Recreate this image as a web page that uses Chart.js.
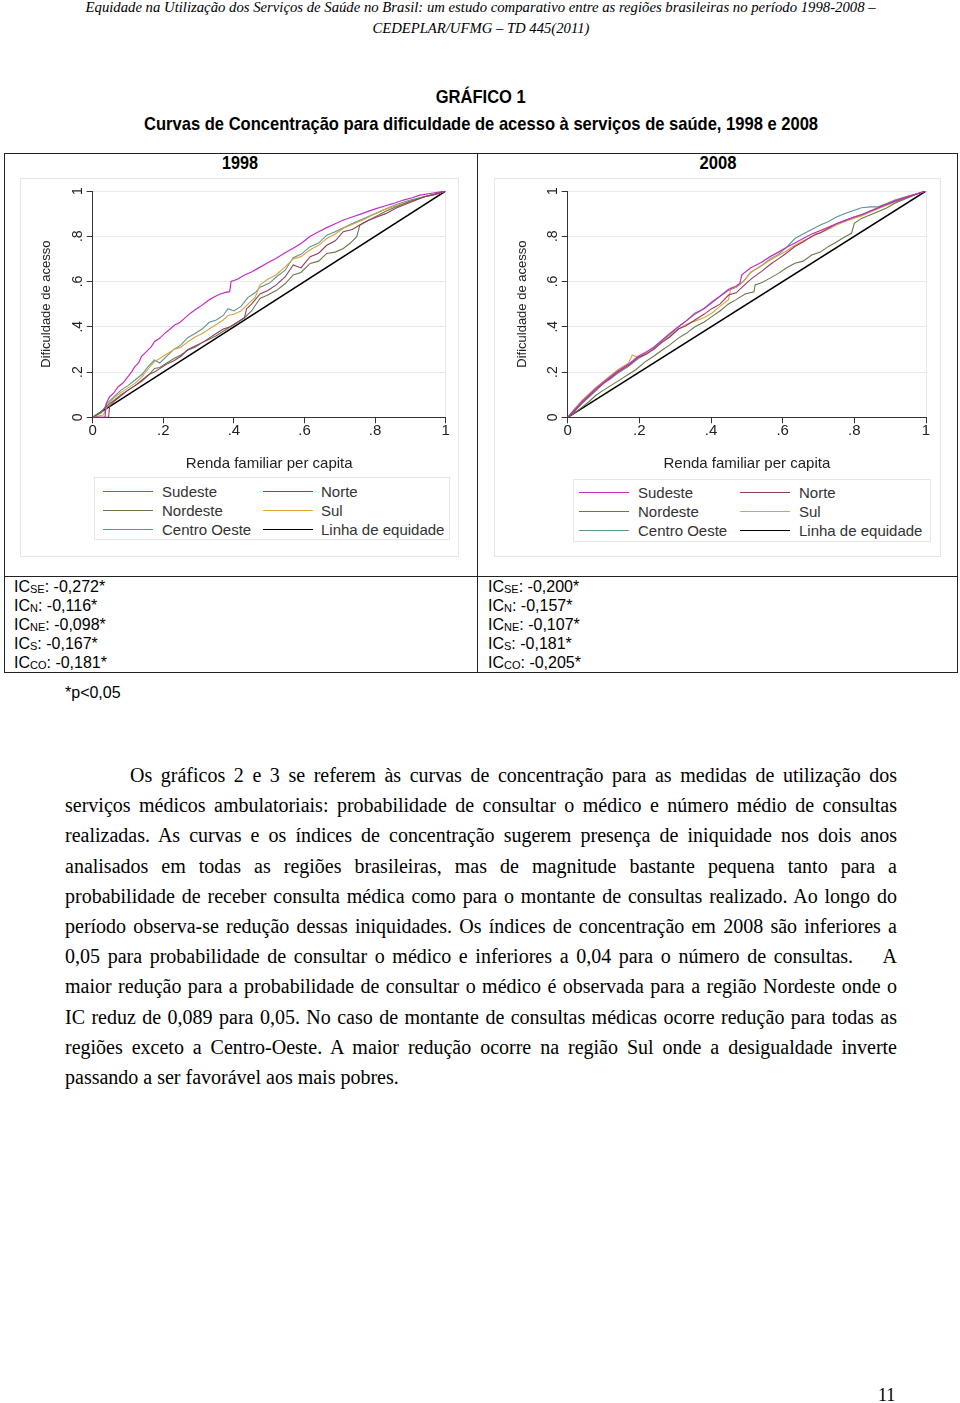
<!DOCTYPE html>
<html lang="pt-BR">
<head>
<meta charset="utf-8">
<script src="https://cdn.jsdelivr.net/npm/chart.js@4.4.1/dist/chart.umd.min.js"></script>
<style>
html,body{margin:0;padding:0;background:#fff;}
body{width:960px;height:1403px;position:relative;overflow:hidden;font-family:"Liberation Sans",Arial,sans-serif;color:#000;}
.abs{position:absolute;white-space:nowrap;}
.center{left:0;width:962px;text-align:center;}
.fit{display:inline-block;transform-origin:50% 50%;}
.hdr{font-family:"Liberation Serif","Times New Roman",serif;font-style:italic;font-size:15px;line-height:20px;}
.ttl{font-weight:bold;font-size:19px;line-height:24px;}
.yr{font-weight:bold;font-size:18px;line-height:22px;text-align:center;}
.line{position:absolute;background:#222;}
.box{position:absolute;border:1px solid #e2e7eb;box-sizing:border-box;}
.ic{position:absolute;font-size:16px;line-height:19px;}
.ic sub{font-size:11px;vertical-align:-1px;line-height:0;}
.par{position:absolute;left:65px;font-family:"Liberation Serif","Times New Roman",serif;font-size:20px;line-height:30px;white-space:nowrap;}
.leg{position:absolute;font-size:15px;line-height:18px;color:#333;white-space:nowrap;}
.legline{position:absolute;height:1px;}
canvas{position:absolute;}
</style>
</head>
<body>

<div class="abs center hdr" style="top:-3px;"><span class="fit" data-w="790">Equidade na Utilização dos Serviços de Saúde no Brasil: um estudo comparativo entre as regiões brasileiras no período 1998-2008 –</span></div>
<div class="abs center hdr" style="top:18px;"><span class="fit" data-w="217">CEDEPLAR/UFMG – TD 445(2011)</span></div>

<div class="abs center ttl" style="top:85px;"><span class="fit" data-w="90">GRÁFICO 1</span></div>
<div class="abs center ttl" style="top:112px;"><span class="fit" data-w="674">Curvas de Concentração para dificuldade de acesso à serviços de saúde, 1998 e 2008</span></div>

<!-- table frame -->
<div class="line" style="left:4px;top:153px;width:954px;height:1px;"></div>
<div class="line" style="left:4px;top:672px;width:954px;height:1px;"></div>
<div class="line" style="left:4px;top:576px;width:954px;height:1px;"></div>
<div class="line" style="left:4px;top:153px;width:1px;height:520px;"></div>
<div class="line" style="left:957px;top:153px;width:1px;height:520px;"></div>
<div class="line" style="left:477px;top:153px;width:1px;height:520px;"></div>

<div class="abs yr" style="left:4px;width:473px;top:152px;"><span class="fit" data-w="36" id="yrLeft"></span></div>
<div class="abs yr" style="left:478px;width:480px;top:152px;"><span class="fit" data-w="37" id="yrRight"></span></div>

<!-- graph regions -->
<div class="box" style="left:20px;top:178px;width:439px;height:379px;"></div>
<div class="box" style="left:494px;top:178px;width:447px;height:379px;"></div>
<div class="box" style="left:94px;top:477px;width:356px;height:63px;"></div>
<div class="box" style="left:573px;top:479px;width:358px;height:63px;"></div>

<canvas id="c1998" width="440" height="300" style="left:20px;top:178px;width:440px;height:300px;"></canvas>
<canvas id="c2008" width="450" height="300" style="left:494px;top:178px;width:450px;height:300px;"></canvas>

<div id="leg1998"></div>
<div id="leg2008"></div>

<div class="ic" style="left:14px;top:577px;" id="icLeft"></div>
<div class="ic" style="left:488px;top:577px;" id="icRight"></div>

<div class="abs" style="left:65px;top:683px;font-size:16px;line-height:20px;">*p&lt;0,05</div>

<div id="paragraph"></div>

<div class="abs" style="left:878px;top:1384px;font-family:'Liberation Serif','Times New Roman',serif;font-size:18px;line-height:22px;">11</div>

<script>
// ---------------- DATA ----------------
const years = ["1998", "2008"];
const seriesNames = ["Sudeste", "Norte", "Nordeste", "Sul", "Centro Oeste"];
const equalityName = "Linha de equidade";
const tickLabels = ["0", ".2", ".4", ".6", ".8", "1"];
const xAxisTitle = "Renda familiar per capita";
const yAxisTitle = "Dificuldade de acesso";

// 1998 concentration curves (cumulative population share x, cumulative share y)
const se98x = [0, 0.035, 0.038, 0.048, 0.06, 0.072, 0.085, 0.1, 0.11, 0.119, 0.13, 0.138, 0.152, 0.166, 0.175, 0.19, 0.204, 0.218, 0.232, 0.246, 0.26, 0.275, 0.289, 0.303, 0.317, 0.331, 0.345, 0.36, 0.374, 0.388, 0.392, 0.41, 0.43, 0.45, 0.468, 0.496, 0.52, 0.545, 0.568, 0.592, 0.616, 0.64, 0.663, 0.687, 0.71, 0.735, 0.757, 0.78, 0.805, 0.83, 0.852, 0.88, 0.905, 0.927, 0.96, 1];
const se98y = [0, 0, 0.06, 0.091, 0.108, 0.135, 0.15, 0.18, 0.2, 0.224, 0.24, 0.268, 0.29, 0.312, 0.334, 0.35, 0.371, 0.388, 0.408, 0.418, 0.437, 0.458, 0.474, 0.488, 0.504, 0.52, 0.533, 0.544, 0.551, 0.555, 0.6, 0.61, 0.629, 0.642, 0.658, 0.683, 0.703, 0.727, 0.747, 0.77, 0.8, 0.82, 0.838, 0.855, 0.872, 0.885, 0.897, 0.91, 0.923, 0.935, 0.945, 0.96, 0.97, 0.982, 0.99, 1];

const no98x = [0, 0.045, 0.048, 0.06, 0.08, 0.1, 0.12, 0.14, 0.16, 0.175, 0.19, 0.21, 0.23, 0.25, 0.27, 0.29, 0.31, 0.33, 0.35, 0.37, 0.39, 0.41, 0.43, 0.436, 0.45, 0.474, 0.496, 0.52, 0.545, 0.568, 0.59, 0.616, 0.64, 0.663, 0.687, 0.71, 0.735, 0.757, 0.78, 0.805, 0.83, 0.86, 0.9, 0.94, 0.97, 1];
const no98y = [0, 0, 0.05, 0.07, 0.095, 0.12, 0.14, 0.165, 0.19, 0.2, 0.215, 0.235, 0.25, 0.27, 0.3, 0.315, 0.33, 0.35, 0.37, 0.39, 0.4, 0.42, 0.44, 0.48, 0.5, 0.545, 0.56, 0.585, 0.62, 0.673, 0.66, 0.71, 0.725, 0.76, 0.78, 0.82, 0.83, 0.85, 0.87, 0.885, 0.9, 0.925, 0.95, 0.975, 0.985, 1];

const ne98x = [0, 0.02, 0.04, 0.06, 0.08, 0.1, 0.12, 0.14, 0.16, 0.175, 0.19, 0.21, 0.23, 0.25, 0.27, 0.29, 0.31, 0.33, 0.35, 0.37, 0.39, 0.41, 0.43, 0.45, 0.474, 0.496, 0.52, 0.545, 0.568, 0.59, 0.616, 0.64, 0.663, 0.687, 0.71, 0.73, 0.748, 0.757, 0.78, 0.805, 0.83, 0.86, 0.9, 0.94, 0.97, 1];
const ne98y = [0, 0.02, 0.05, 0.075, 0.1, 0.12, 0.14, 0.16, 0.19, 0.216, 0.22, 0.24, 0.26, 0.275, 0.297, 0.31, 0.33, 0.345, 0.36, 0.38, 0.4, 0.42, 0.44, 0.47, 0.525, 0.54, 0.56, 0.59, 0.629, 0.64, 0.68, 0.69, 0.724, 0.73, 0.746, 0.77, 0.798, 0.85, 0.87, 0.89, 0.91, 0.93, 0.955, 0.975, 0.988, 1];

const su98x = [0, 0.03, 0.045, 0.06, 0.08, 0.1, 0.12, 0.14, 0.16, 0.175, 0.19, 0.21, 0.23, 0.25, 0.27, 0.29, 0.31, 0.33, 0.35, 0.37, 0.383, 0.4, 0.42, 0.44, 0.46, 0.474, 0.496, 0.52, 0.545, 0.568, 0.59, 0.616, 0.64, 0.663, 0.687, 0.71, 0.74, 0.77, 0.8, 0.83, 0.86, 0.9, 0.94, 0.97, 1];
const su98y = [0, 0.01, 0.06, 0.085, 0.11, 0.13, 0.15, 0.18, 0.22, 0.246, 0.26, 0.28, 0.3, 0.31, 0.334, 0.355, 0.37, 0.39, 0.41, 0.43, 0.45, 0.455, 0.47, 0.5, 0.53, 0.585, 0.61, 0.63, 0.665, 0.7, 0.71, 0.74, 0.76, 0.79, 0.81, 0.835, 0.855, 0.875, 0.9, 0.92, 0.935, 0.955, 0.975, 0.985, 1];

const co98x = [0, 0.025, 0.04, 0.06, 0.08, 0.1, 0.12, 0.14, 0.16, 0.175, 0.19, 0.21, 0.23, 0.25, 0.27, 0.29, 0.31, 0.33, 0.35, 0.37, 0.383, 0.4, 0.42, 0.44, 0.46, 0.474, 0.5, 0.52, 0.545, 0.568, 0.59, 0.616, 0.64, 0.663, 0.687, 0.71, 0.74, 0.77, 0.8, 0.83, 0.86, 0.9, 0.94, 0.97, 1];
const co98y = [0, 0.02, 0.06, 0.09, 0.12, 0.14, 0.165, 0.19, 0.23, 0.253, 0.24, 0.27, 0.3, 0.32, 0.353, 0.37, 0.39, 0.42, 0.43, 0.45, 0.48, 0.47, 0.49, 0.53, 0.55, 0.575, 0.592, 0.62, 0.65, 0.705, 0.72, 0.754, 0.77, 0.805, 0.82, 0.838, 0.86, 0.88, 0.9, 0.92, 0.94, 0.96, 0.975, 0.985, 1];

// 2008 concentration curves
const se08x = [0, 0.02, 0.04, 0.06, 0.077, 0.1, 0.12, 0.14, 0.17, 0.197, 0.22, 0.24, 0.262, 0.285, 0.309, 0.33, 0.355, 0.38, 0.402, 0.425, 0.448, 0.47, 0.48, 0.486, 0.51, 0.541, 0.565, 0.588, 0.61, 0.634, 0.657, 0.681, 0.705, 0.727, 0.75, 0.774, 0.8, 0.82, 0.85, 0.88, 0.913, 0.95, 0.98, 1];
const se08y = [0, 0.035, 0.07, 0.1, 0.125, 0.155, 0.18, 0.205, 0.235, 0.27, 0.29, 0.31, 0.34, 0.37, 0.4, 0.425, 0.46, 0.48, 0.51, 0.535, 0.565, 0.58, 0.59, 0.63, 0.66, 0.685, 0.71, 0.73, 0.75, 0.77, 0.79, 0.81, 0.825, 0.84, 0.855, 0.87, 0.885, 0.895, 0.915, 0.935, 0.955, 0.975, 0.99, 1];

const no08x = [0, 0.02, 0.04, 0.06, 0.077, 0.1, 0.12, 0.14, 0.17, 0.197, 0.22, 0.24, 0.262, 0.285, 0.309, 0.33, 0.355, 0.38, 0.402, 0.425, 0.449, 0.47, 0.49, 0.514, 0.541, 0.565, 0.588, 0.61, 0.634, 0.657, 0.681, 0.705, 0.727, 0.75, 0.774, 0.8, 0.82, 0.85, 0.88, 0.913, 0.95, 0.98, 1];
const no08y = [0, 0.03, 0.065, 0.095, 0.12, 0.15, 0.175, 0.2, 0.23, 0.265, 0.28, 0.3, 0.33, 0.355, 0.39, 0.405, 0.43, 0.455, 0.48, 0.5, 0.54, 0.55, 0.58, 0.614, 0.645, 0.675, 0.7, 0.725, 0.755, 0.775, 0.8, 0.815, 0.835, 0.855, 0.87, 0.885, 0.895, 0.915, 0.935, 0.955, 0.975, 0.99, 1];

const ne08x = [0, 0.02, 0.04, 0.06, 0.077, 0.1, 0.12, 0.14, 0.17, 0.19, 0.216, 0.24, 0.262, 0.285, 0.309, 0.33, 0.355, 0.38, 0.402, 0.425, 0.448, 0.47, 0.495, 0.52, 0.523, 0.541, 0.565, 0.588, 0.61, 0.634, 0.657, 0.681, 0.705, 0.727, 0.75, 0.774, 0.792, 0.8, 0.82, 0.845, 0.867, 0.89, 0.913, 0.95, 0.98, 1];
const ne08y = [0, 0.02, 0.045, 0.07, 0.095, 0.12, 0.14, 0.16, 0.19, 0.21, 0.245, 0.27, 0.295, 0.32, 0.35, 0.37, 0.4, 0.42, 0.445, 0.47, 0.5, 0.52, 0.545, 0.555, 0.585, 0.595, 0.615, 0.636, 0.66, 0.681, 0.69, 0.717, 0.73, 0.754, 0.775, 0.798, 0.813, 0.857, 0.879, 0.895, 0.909, 0.925, 0.946, 0.97, 0.99, 1];

const su08x = [0, 0.02, 0.04, 0.06, 0.077, 0.1, 0.12, 0.14, 0.17, 0.18, 0.197, 0.22, 0.24, 0.262, 0.285, 0.309, 0.33, 0.355, 0.38, 0.402, 0.425, 0.449, 0.455, 0.47, 0.49, 0.514, 0.541, 0.565, 0.588, 0.61, 0.634, 0.657, 0.681, 0.69, 0.705, 0.727, 0.75, 0.774, 0.8, 0.82, 0.85, 0.88, 0.913, 0.95, 0.98, 1];
const su08y = [0, 0.04, 0.075, 0.105, 0.13, 0.16, 0.185, 0.21, 0.24, 0.275, 0.265, 0.285, 0.3, 0.33, 0.36, 0.39, 0.41, 0.425, 0.44, 0.46, 0.49, 0.52, 0.57, 0.575, 0.6, 0.645, 0.67, 0.695, 0.715, 0.735, 0.76, 0.78, 0.795, 0.81, 0.815, 0.83, 0.85, 0.865, 0.88, 0.89, 0.91, 0.93, 0.95, 0.972, 0.99, 1];

const co08x = [0, 0.02, 0.04, 0.06, 0.077, 0.1, 0.12, 0.14, 0.17, 0.197, 0.22, 0.24, 0.262, 0.285, 0.309, 0.33, 0.355, 0.38, 0.402, 0.425, 0.448, 0.47, 0.49, 0.51, 0.541, 0.565, 0.588, 0.61, 0.634, 0.657, 0.681, 0.705, 0.727, 0.75, 0.774, 0.8, 0.82, 0.845, 0.867, 0.89, 0.913, 0.95, 0.98, 1];
const co08y = [0, 0.03, 0.06, 0.09, 0.115, 0.15, 0.17, 0.195, 0.225, 0.26, 0.28, 0.305, 0.335, 0.365, 0.4, 0.425, 0.455, 0.48, 0.505, 0.535, 0.56, 0.575, 0.6, 0.64, 0.67, 0.7, 0.72, 0.75, 0.79, 0.81, 0.83, 0.85, 0.864, 0.885, 0.901, 0.915, 0.926, 0.93, 0.93, 0.945, 0.96, 0.978, 0.99, 1];

// line of equality
const eqX = [0, 1];
const eqY = [0, 1];

// concentration indices
const icCodes = ["SE", "N", "NE", "S", "CO"];
const ic1998 = ["-0,272*", "-0,116*", "-0,098*", "-0,167*", "-0,181*"];
const ic2008 = ["-0,200*", "-0,157*", "-0,107*", "-0,181*", "-0,205*"];

const paragraphLines = [
  "Os gráficos 2 e 3 se referem às curvas de concentração para as medidas de utilização dos",
  "serviços médicos ambulatoriais: probabilidade de consultar o médico e número médio de consultas",
  "realizadas. As curvas e os índices de concentração sugerem presença de iniquidade nos dois anos",
  "analisados em todas as regiões brasileiras, mas de magnitude bastante pequena tanto para a",
  "probabilidade de receber consulta médica como para o montante de consultas realizado. Ao longo do",
  "período observa-se redução dessas iniquidades. Os índices de concentração em 2008 são inferiores a",
  "0,05 para probabilidade de consultar o médico e inferiores a 0,04 para o número de consultas.\u00a0\u00a0\u00a0 A",
  "maior redução para a probabilidade de consultar o médico é observada para a região Nordeste onde o",
  "IC reduz de 0,089 para 0,05. No caso de montante de consultas médicas ocorre redução para todas as",
  "regiões exceto a Centro-Oeste. A maior redução ocorre na região Sul onde a desigualdade inverte",
  "passando a ser favorável aos mais pobres."
];

// ---------------- STYLE ----------------
const seriesColors = ["#c42ec4", "#933d5c", "#667a4a", "#d9a441", "#5f9292"];
const equalityColor = "#000000";

// ---------------- TEXT ----------------
document.getElementById('yrLeft').textContent = years[0];
document.getElementById('yrRight').textContent = years[1];

function fillIC(id, vals) {
  const el = document.getElementById(id);
  el.innerHTML = icCodes.map((c, i) => 'IC<sub>' + c + '</sub>: ' + vals[i]).join('<br>');
}
fillIC('icLeft', ic1998);
fillIC('icRight', ic2008);

const par = document.getElementById('paragraph');
paragraphLines.forEach((t, i) => {
  const d = document.createElement('div');
  d.className = 'par';
  d.style.top = (760 + i * 30.2) + 'px';
  const s = document.createElement('span');
  s.textContent = t;
  s.style.display = 'inline-block';
  d.appendChild(s);
  par.appendChild(d);
  const indent = i === 0 ? 65 : 0;
  s.style.marginLeft = indent + 'px';
  if (i < paragraphLines.length - 1) {
    const target = 832 - indent;
    const w = s.getBoundingClientRect().width;
    const n = (t.match(/[ \u00a0]/g) || []).length;
    if (n > 0) s.style.wordSpacing = ((target - w) / n) + 'px';
  }
});

// width fitting for condensed faces
document.querySelectorAll('.fit').forEach(el => {
  const target = parseFloat(el.dataset.w);
  const w = el.getBoundingClientRect().width;
  if (w > 0) el.style.transform = 'scaleX(' + (target / w).toFixed(4) + ')';
});

// ---------------- LEGENDS ----------------
function buildLegend(id, cfg) {
  const host = document.getElementById(id);
  const names = seriesNames.concat([equalityName]);
  const cols = seriesColors.concat([equalityColor]);
  names.forEach((nm, i) => {
    const c = i % 2, r = Math.floor(i / 2);
    const y = cfg.rows[r];
    const ln = document.createElement('div');
    ln.className = 'legline';
    ln.style.left = cfg.lineX[c] + 'px';
    ln.style.width = cfg.lineW + 'px';
    ln.style.top = y + 'px';
    ln.style.background = cols[i];
    host.appendChild(ln);
    const tx = document.createElement('div');
    tx.className = 'leg';
    tx.style.left = cfg.textX[c] + 'px';
    tx.style.top = (y - 8.5) + 'px';
    tx.textContent = nm;
    host.appendChild(tx);
  });
}
buildLegend('leg1998', {rows: [491, 510, 529], lineX: [103, 263], lineW: 50, textX: [162, 321]});
buildLegend('leg2008', {rows: [492, 511, 530], lineX: [579, 740], lineW: 50, textX: [638, 799]});

// ---------------- CHARTS ----------------
function ds(label, xs, ys, color, w) {
  return {
    label: label,
    data: xs.map((x, i) => ({x: x, y: ys[i]})),
    borderColor: color,
    backgroundColor: color,
    borderWidth: w,
    pointRadius: 0,
    showLine: true,
    fill: false,
    tension: 0
  };
}

const yTickPlugin = {
  id: 'yTickRot',
  afterDraw(chart, args, opts) {
    const sc = chart.scales.y, ctx = chart.ctx;
    ctx.save();
    ctx.fillStyle = '#222';
    ctx.font = '14px "Liberation Sans", Arial, sans-serif';
    ctx.textAlign = 'center';
    ctx.textBaseline = 'middle';
    sc.ticks.forEach((t, i) => {
      const py = sc.getPixelForValue(t.value);
      ctx.save();
      ctx.translate(opts.x, py);
      ctx.rotate(-Math.PI / 2);
      ctx.fillText(tickLabels[i], 0, 0);
      ctx.restore();
    });
    ctx.restore();
  }
};

function makeChart(id, sets, geo) {
  return new Chart(document.getElementById(id), {
    type: 'scatter',
    data: {datasets: sets},
    plugins: [yTickPlugin],
    options: {
      responsive: false,
      animation: false,
      devicePixelRatio: 1,
      layout: {padding: {left: 0, right: geo.padRight, top: 13, bottom: 0}},
      plugins: {
        legend: {display: false},
        tooltip: {enabled: false},
        yTickRot: {x: geo.yTickX}
      },
      scales: {
        x: {
          type: 'linear', min: 0, max: 1,
          afterFit: s => { s.height = 60.7; },
          ticks: {stepSize: 0.2, callback: (v, i) => tickLabels[i], color: '#222',
                  font: {family: '"Liberation Sans", Arial, sans-serif', size: 15, lineHeight: 1}, padding: 0, maxRotation: 0},
          grid: {drawOnChartArea: true, drawTicks: true, tickLength: 6, tickColor: '#333',
                 color: c => (c.tick && c.tick.value === 1) ? '#e6eaee' : 'rgba(0,0,0,0)'},
          border: {display: true, color: '#333', width: 1},
          title: {display: true, text: xAxisTitle, color: '#222',
                  font: {family: '"Liberation Sans", Arial, sans-serif', size: 15, lineHeight: 1.2}, padding: {top: 0, bottom: 5}}
        },
        y: {
          type: 'linear', min: 0, max: 1,
          afterFit: s => { s.width = geo.yWidth; },
          ticks: {stepSize: 0.2, display: false},
          grid: {drawTicks: true, tickLength: 6, tickColor: '#333', color: '#e6eaee', lineWidth: 1},
          border: {display: true, color: '#333', width: 1},
          title: {display: true, text: yAxisTitle, color: '#222',
                  font: {family: '"Liberation Sans", Arial, sans-serif', size: 13, lineHeight: 1.2}, padding: {top: geo.yTitlePad, bottom: 0}}
        }
      }
    }
  });
}

const sets1998 = [
  ds(seriesNames[0], se98x, se98y, seriesColors[0], 1.2),
  ds(seriesNames[1], no98x, no98y, seriesColors[1], 1.1),
  ds(seriesNames[2], ne98x, ne98y, seriesColors[2], 1.1),
  ds(seriesNames[3], su98x, su98y, seriesColors[3], 1.1),
  ds(seriesNames[4], co98x, co98y, seriesColors[4], 1.1),
  ds(equalityName, eqX, eqY, equalityColor, 1.5)
];
const sets2008 = [
  ds(seriesNames[0], se08x, se08y, seriesColors[0], 1.2),
  ds(seriesNames[1], no08x, no08y, seriesColors[1], 1.1),
  ds(seriesNames[2], ne08x, ne08y, seriesColors[2], 1.1),
  ds(seriesNames[3], su08x, su08y, seriesColors[3], 1.1),
  ds(seriesNames[4], co08x, co08y, seriesColors[4], 1.1),
  ds(equalityName, eqX, eqY, equalityColor, 1.5)
];

makeChart('c1998', sets1998, {padRight: 14.3, yWidth: 72.7, yTickX: 58, yTitlePad: 18.8});
makeChart('c2008', sets2008, {padRight: 18, yWidth: 73.7, yTickX: 59, yTitlePad: 20.2});
</script>
</body>
</html>
